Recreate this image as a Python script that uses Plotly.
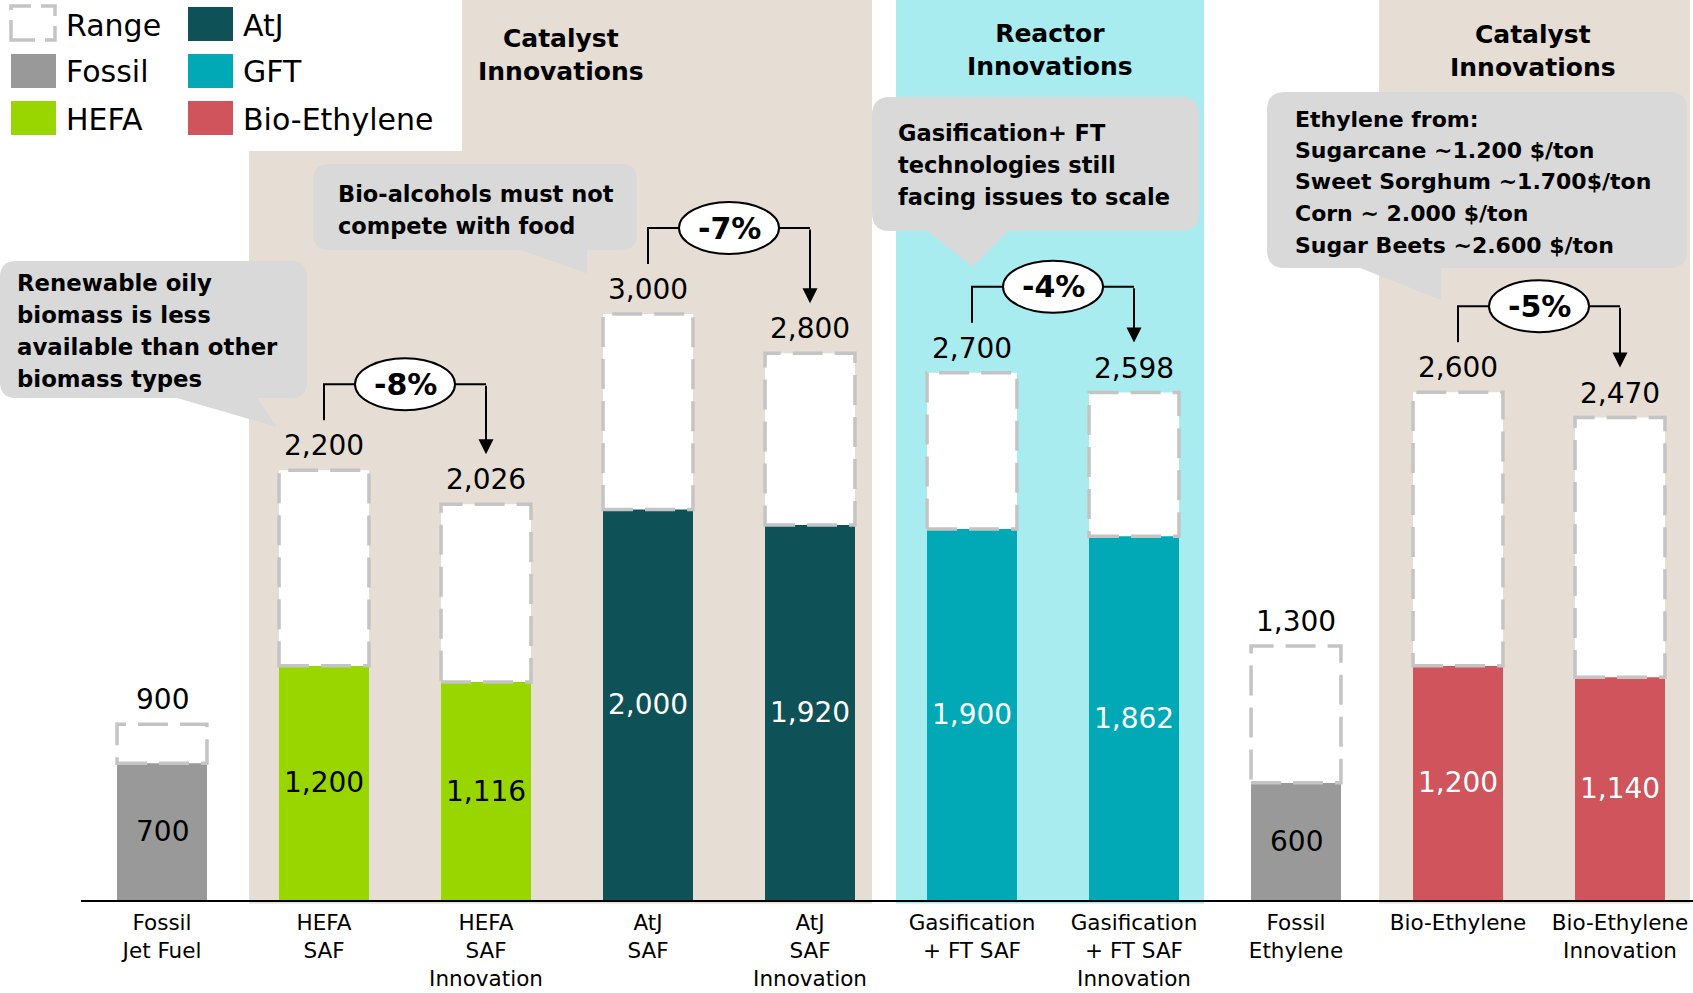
import plotly.graph_objects as go

# ---------------- data ----------------
categories = ["Fossil<br>Jet Fuel", "HEFA<br>SAF", "HEFA<br>SAF<br>Innovation", "AtJ<br>SAF",
              "AtJ<br>SAF<br>Innovation", "Gasification<br>+ FT SAF",
              "Gasification<br>+ FT SAF<br>Innovation", "Fossil<br>Ethylene",
              "Bio-Ethylene", "Bio-Ethylene<br>Innovation"]
low_values = [700, 1200, 1116, 2000, 1920, 1900, 1862, 600, 1200, 1140]
high_values = [900, 2200, 2026, 3000, 2800, 2700, 2598, 1300, 2600, 2470]
technology = ["Fossil", "HEFA", "HEFA", "AtJ", "AtJ", "GFT", "GFT", "Fossil",
              "Bio-Ethylene", "Bio-Ethylene"]
legend_col1 = ["Range", "Fossil", "HEFA"]
legend_col2 = ["AtJ", "GFT", "Bio-Ethylene"]
change_from = [1, 3, 5, 8]
change_to = [2, 4, 6, 9]
change_labels = ["-8%", "-7%", "-4%", "-5%"]
section_titles = ["Catalyst<br>Innovations", "Reactor<br>Innovations", "Catalyst<br>Innovations"]
callout_lines = [
    ["Renewable oily", "biomass is less", "available than other", "biomass types"],
    ["Bio-alcohols must not", "compete with food"],
    ["Gasification+ FT", "technologies still", "facing issues to scale"],
    ["Ethylene from:", "Sugarcane ~1.200 $/ton", "Sweet Sorghum ~1.700$/ton",
     "Corn ~ 2.000 $/ton", "Sugar Beets ~2.600 $/ton"],
]

# ---------------- styles ----------------
colors = {"Fossil": "#999999", "HEFA": "#99D600", "AtJ": "#0E5258",
          "GFT": "#00A9B5", "Bio-Ethylene": "#CF545C"}
label_colors = {"Fossil": "black", "HEFA": "black", "AtJ": "white",
                "GFT": "white", "Bio-Ethylene": "white"}
BEIGE = "#E6DDD4"
CYAN = "#A8ECF0"
CALLOUT = "#D9D9D9"
RANGE_LINE = "#C4C4C4"
RANGE_DASH = "30px,12px"
FONT = "DejaVu Sans"

W, H = 1693, 993
ML, MB = 81, 93
PW, PH = W - ML, H - MB          # plot area in px
STEP = 162                        # px per category
YMAX = 4608
YU = PH / YMAX                    # px per value unit
BAR_W = 0.555


def px_x(px):
    return (px - ML) / PW


def px_y(py):
    return (PH - py) / PH


fig = go.Figure()
fig.add_trace(go.Bar(
    x=list(range(len(categories))), y=low_values, width=BAR_W,
    marker=dict(color=[colors[t] for t in technology], line=dict(width=0)),
    hoverinfo="skip", showlegend=False))

shapes = []
annotations = []

# background section bands (in px)
bands = [(249, 872, BEIGE), (896, 1204, CYAN), (1379, 1690, BEIGE)]
for x0, x1, c in bands:
    shapes.append(dict(type="rect", xref="paper", yref="paper", x0=px_x(x0), x1=px_x(x1),
                       y0=-0.004, y1=1, fillcolor=c, line=dict(width=0), layer="below"))
# legend white box
shapes.append(dict(type="rect", xref="paper", yref="paper", x0=px_x(0), x1=px_x(462),
                   y0=px_y(151), y1=px_y(0), fillcolor="white", line=dict(width=0), layer="below"))

# range boxes and labels
for i, (lo, hi, t) in enumerate(zip(low_values, high_values, technology)):
    shapes.append(dict(type="rect", xref="x", yref="y", x0=i - BAR_W / 2, x1=i + BAR_W / 2,
                       y0=lo, y1=hi, fillcolor="white",
                       line=dict(color=RANGE_LINE, width=3.5, dash=RANGE_DASH), layer="above"))
    annotations.append(dict(x=i, y=lo / 2, xref="x", yref="y", text=f"{lo:,}", showarrow=False,
                            font=dict(family=FONT, size=28, color=label_colors[t])))
    annotations.append(dict(x=i, y=hi, xref="x", yref="y", text=f"{hi:,}", showarrow=False,
                            yanchor="bottom", yshift=6,
                            font=dict(family=FONT, size=28, color="black")))

# change brackets
for a, b, lab in zip(change_from, change_to, change_labels):
    y_start = high_values[a] + 50 / YU
    y_h = high_values[a] + 86 / YU
    y_tip = high_values[b] + 50 / YU
    shapes.append(dict(type="path", xref="x", yref="y",
                       path=f"M {a},{y_start} L {a},{y_h} L {b},{y_h}",
                       line=dict(color="black", width=2), layer="above"))
    c = (a + b) / 2
    ew = 50 / STEP
    eh = 26 / YU
    shapes.append(dict(type="circle", xref="x", yref="y", x0=c - ew, x1=c + ew,
                       y0=y_h - eh, y1=y_h + eh, fillcolor="white",
                       line=dict(color="black", width=2), layer="above"))
    annotations.append(dict(x=c, y=y_h, xref="x", yref="y", text=f"<b>{lab}</b>", showarrow=False,
                            font=dict(family=FONT, size=30, color="black")))
    annotations.append(dict(x=b, y=y_tip, xref="x", yref="y", ax=b, ay=y_h, axref="x", ayref="y",
                            text="", showarrow=True, arrowhead=2, arrowsize=1.5, arrowwidth=2,
                            arrowcolor="black", standoff=0))


# callouts (px geometry)
def callout_path(x0, y0, x1, y1, r, tb0, tb1, tip):
    def P(x, y):
        return f"{px_x(x)},{px_y(y)}"
    return (f"M {P(x0 + r, y0)} L {P(x1 - r, y0)} Q {P(x1, y0)} {P(x1, y0 + r)} "
            f"L {P(x1, y1 - r)} Q {P(x1, y1)} {P(x1 - r, y1)} L {P(tb1, y1)} L {P(*tip)} "
            f"L {P(tb0, y1)} L {P(x0 + r, y1)} Q {P(x0, y1)} {P(x0, y1 - r)} "
            f"L {P(x0, y0 + r)} Q {P(x0, y0)} {P(x0 + r, y0)} Z")


callouts = [
    ((0, 261, 307, 398, 16, 177, 257, (277, 427)), (15, 283, 32, 22.8)),
    ((313, 164, 637, 250, 16, 520, 587, (587, 273)), (336, 194, 32, 22.5)),
    ((872, 97, 1199, 231, 18, 927, 1008, (973, 267)), (896, 133, 32, 22.5)),
    ((1267, 92, 1687, 268, 18, 1360, 1441, (1441, 300)), (1293, 119, 31.5, 22)),
]
for (geom, (tx, ty, dy, fs)), lines in zip(callouts, callout_lines):
    shapes.append(dict(type="path", xref="paper", yref="paper", path=callout_path(*geom),
                       fillcolor=CALLOUT, line=dict(width=0), layer="above"))
    for k, line in enumerate(lines):
        annotations.append(dict(x=px_x(tx), y=px_y(ty + k * dy), xref="paper", yref="paper",
                                text=f"<b>{line}</b>", showarrow=False, xanchor="left",
                                yanchor="middle", align="left",
                                font=dict(family=FONT, size=fs, color="black")))

# section titles
for txt, (tx, ty) in zip(section_titles, [(561, 55), (1050, 50), (1533, 51)]):
    annotations.append(dict(x=px_x(tx), y=px_y(ty), xref="paper", yref="paper",
                            text=f"<b>{txt}</b>", showarrow=False, xanchor="center",
                            yanchor="middle", align="center",
                            font=dict(family=FONT, size=25, color="black")))

# custom legend
rows = [24, 71, 118]
for col, (sx, tx) in zip([legend_col1, legend_col2], [(11, 64), (188, 241)]):
    for name, cy in zip(col, rows):
        if name == "Range":
            shapes.append(dict(type="rect", xref="paper", yref="paper", x0=px_x(11), x1=px_x(55),
                               y0=px_y(40), y1=px_y(6), fillcolor="white",
                               line=dict(color=RANGE_LINE, width=3.5, dash="24px,10px"),
                               layer="above"))
        else:
            shapes.append(dict(type="rect", xref="paper", yref="paper", x0=px_x(sx), x1=px_x(sx + 45),
                               y0=px_y(cy + 17), y1=px_y(cy - 17), fillcolor=colors[name],
                               line=dict(width=0), layer="above"))
        annotations.append(dict(x=px_x(tx), y=px_y(cy + 1), xref="paper", yref="paper", text=name,
                                showarrow=False, xanchor="left", yanchor="middle",
                                font=dict(family=FONT, size=30, color="black")))

fig.update_layout(
    width=W, height=H,
    margin=dict(l=ML, r=0, t=0, b=MB, pad=0, autoexpand=False),
    paper_bgcolor="white", plot_bgcolor="rgba(0,0,0,0)",
    showlegend=False, hovermode=False,
    shapes=shapes, annotations=annotations,
    xaxis=dict(range=[-0.5, -0.5 + PW / STEP], tickvals=list(range(len(categories))),
               ticktext=categories, showgrid=False, zeroline=False, showline=True,
               linecolor="black", linewidth=2, ticks="", fixedrange=True,
               ticklabelstandoff=2, automargin=False, ticklabeloverflow="allow",
               tickfont=dict(family=FONT, size=21.5, color="black")),
    yaxis=dict(range=[0, YMAX], visible=False, fixedrange=True, automargin=False),
    bargap=0,
)

fig.write_html("out.html", config={"displayModeBar": False},
               post_script="document.body.style.margin='0';document.body.style.overflow='hidden';")
